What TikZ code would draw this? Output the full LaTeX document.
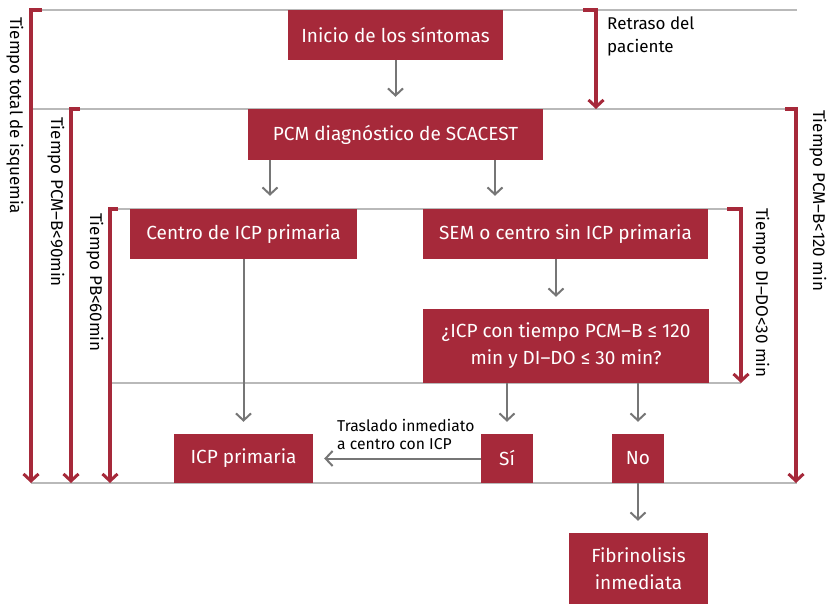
\documentclass[tikz,border=0pt]{standalone}
\usepackage{fontspec}
\setmainfont{Fira Sans}
\usetikzlibrary{arrows.meta,calc}
\definecolor{rd}{RGB}{166,41,58}
\definecolor{gl}{RGB}{185,185,185}
\definecolor{ga}{RGB}{118,118,118}
\begin{document}
\begin{tikzpicture}[x=1pt,y=-1pt,
 box/.style={fill=rd,text=white,inner sep=0pt,font=\fontsize{19}{27}\selectfont,align=center},
 gline/.style={draw=gl,line width=1.3pt},
 garr/.style={draw=ga,line width=2pt,-{Straight Barb[length=7pt,width=15pt,line width=2pt]}},
 rbr/.style={draw=rd,line width=3.2pt,-{Straight Barb[length=7pt,width=15pt,line width=3pt]}},
 lab/.style={font=\fontsize{17}{23}\selectfont,inner sep=0pt,align=left},
 rlab/.style={font=\fontsize{17}{18}\selectfont,inner sep=0pt,rotate=-90,anchor=west},
]
\useasboundingbox (0,0) rectangle (827,604);
% gray horizontal lines
\coordinate (g1a) at (31,10);  \coordinate (g1b) at (797,10);
\coordinate (g2a) at (31,109); \coordinate (g2b) at (797,109);
\coordinate (g3a) at (110,209); \coordinate (g3b) at (741,209);
\coordinate (g4a) at (110,383); \coordinate (g4b) at (741,383);
\coordinate (g5a) at (31,483); \coordinate (g5b) at (797,483);
\draw[gline] (g1a) -- (g1b);
\draw[gline] (g2a) -- (g2b);
\draw[gline] (g3a) -- (g3b);
\draw[gline] (g4a) -- (g4b);
\draw[gline] (g5a) -- (g5b);
% red brackets
\coordinate (t1a) at (42,10);  \coordinate (t1b) at (31,10);  \coordinate (t1c) at (31,483);
\coordinate (t2a) at (80,109); \coordinate (t2b) at (71,109); \coordinate (t2c) at (71,483);
\coordinate (t3a) at (118,209); \coordinate (t3b) at (110,209); \coordinate (t3c) at (110,483);
\coordinate (t4a) at (583,10); \coordinate (t4b) at (596,10); \coordinate (t4c) at (596,109);
\coordinate (t5a) at (785,109); \coordinate (t5b) at (796,109); \coordinate (t5c) at (796,483);
\coordinate (t6a) at (727,209); \coordinate (t6b) at (741,209); \coordinate (t6c) at (741,383);
\draw[rbr] (t1a) -- (t1b) -- (t1c);
\draw[rbr] (t2a) -- (t2b) -- (t2c);
\draw[rbr] (t3a) -- (t3b) -- (t3c);
\draw[rbr] (t4a) -- (t4b) -- (t4c);
\draw[rbr] (t5a) -- (t5b) -- (t5c);
\draw[rbr] (t6a) -- (t6b) -- (t6c);
% labels
\node[rlab] (l1) at (15,17) {Tiempo total de isquemia};
\node[rlab] (l2) at (56,117) {Tiempo PCM–B<90min};
\node[rlab] (l3) at (95,213) {Tiempo PB<60min};
\node[rlab] (l4) at (761,208) {Tiempo DI–DO<30 min};
\node[rlab] (l5) at (818,110) {Tiempo PCM–B<120 min};
\node[lab,anchor=north west] (l6) at (607,17) {Retraso del\\paciente};
% boxes
\node[box,minimum width=215,minimum height=50] (inicio) at (395.5,35) {Inicio de los síntomas};
\node[box,minimum width=295,minimum height=51] (pcm) at (395.5,134.5) {PCM diagnóstico de SCACEST};
\node[box,minimum width=227,minimum height=50] (centro) at (243.5,234) {Centro de ICP primaria};
\node[box,minimum width=285,minimum height=50] (sem) at (565.5,234) {SEM o centro sin ICP primaria};
\node[box,minimum width=286,minimum height=74] (q) at (566,346) {¿ICP con tiempo PCM–B ≤ 120\\min y DI–DO ≤ 30 min?};
\node[box,minimum width=139,minimum height=49] (icp) at (243.5,458.5) {ICP primaria};
\node[box,minimum width=52,minimum height=49] (si) at (507,458.5) {Sí};
\node[box,minimum width=52,minimum height=49] (no) at (638,458.5) {No};
\node[box,minimum width=139,minimum height=71] (fib) at (638.5,568.5) {Fibrinolisis\\inmediata};
% arrows
\coordinate (x270) at (270,0);
\coordinate (x495) at (495,0);
\coordinate (x556) at (556,0);
\coordinate (x507) at (507,0);
\coordinate (x638) at (638,0);
\draw[garr,shorten >=12pt] (inicio.south) -- (pcm.north);
\draw[garr,shorten >=13pt] (pcm.south -| x270) -- (centro.north -| x270);
\draw[garr,shorten >=13pt] (pcm.south -| x495) -- (sem.north -| x495);
\draw[garr,shorten >=12pt] (sem.south -| x556) -- (q.north -| x556);
\draw[garr,shorten >=12pt] (centro.south) -- (icp.north -| centro.south);
\draw[garr,shorten >=12pt] (q.south -| x507) -- (si.north);
\draw[garr,shorten >=12pt] (q.south -| x638) -- (no.north);
\draw[garr,shorten >=11pt] (si.west) -- (icp.east);
\draw[garr,shorten >=12pt] (no.south) -- (fib.north -| no.south);
\node[font=\fontsize{15.7}{18}\selectfont,inner sep=0pt,align=left,anchor=north west] (tr) at (337,419) {Traslado inmediato\\a centro con ICP};
\end{tikzpicture}
\end{document}
